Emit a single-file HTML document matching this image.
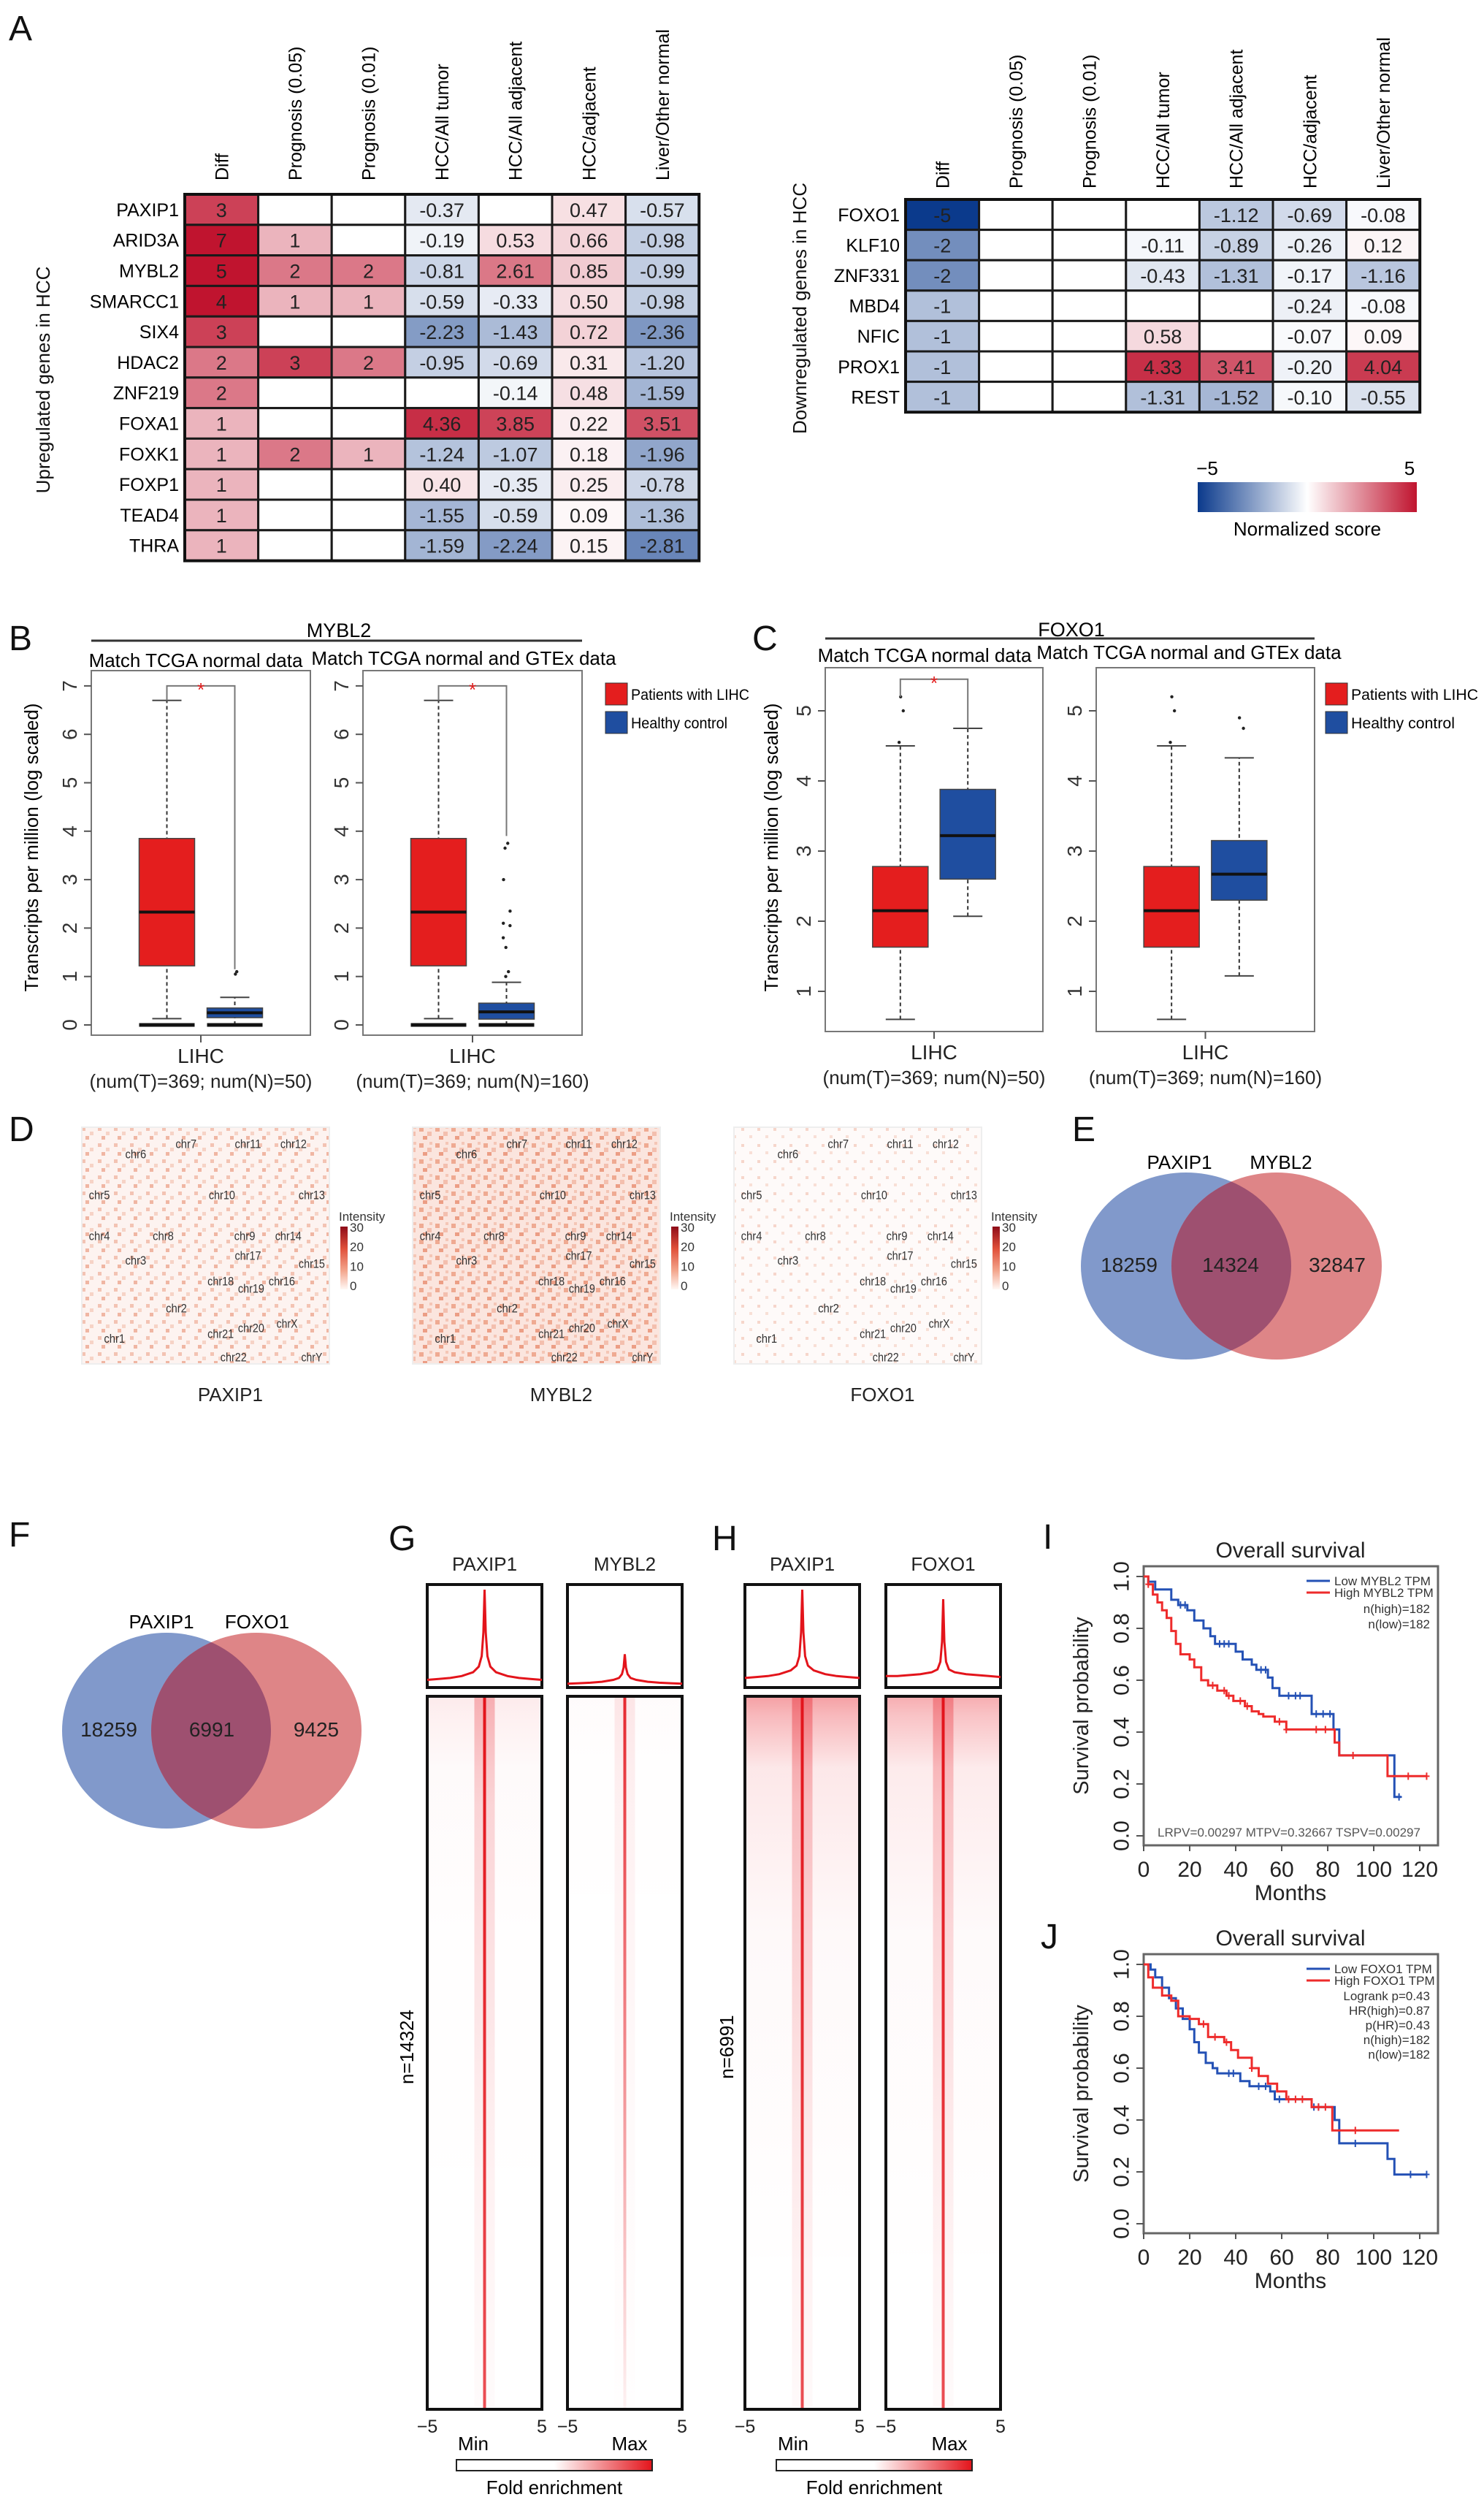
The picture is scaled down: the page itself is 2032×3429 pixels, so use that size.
<!DOCTYPE html>
<html><head><meta charset="utf-8"><title>Figure</title>
<style>
html,body{margin:0;padding:0;background:#fff;}
svg{display:block;font-family:"Liberation Sans",Arial,sans-serif;}
</style></head>
<body>
<svg id="fig" xmlns="http://www.w3.org/2000/svg" width="2032" height="3429" viewBox="0 0 2032 3429">
<defs>
<linearGradient id="normGrad" x1="0" x2="1" y1="0" y2="0">
<stop offset="0" stop-color="#0b3a8c"/><stop offset="0.5" stop-color="#ffffff"/><stop offset="1" stop-color="#c0142f"/>
</linearGradient>
<linearGradient id="intGrad" x1="0" x2="0" y1="0" y2="1">
<stop offset="0" stop-color="#8e0c18"/><stop offset="0.35" stop-color="#e0503a"/><stop offset="0.7" stop-color="#f3a58c"/><stop offset="1" stop-color="#fff8f4"/>
</linearGradient>
<linearGradient id="foldGrad" x1="0" x2="1" y1="0" y2="0">
<stop offset="0" stop-color="#ffffff"/><stop offset="0.5" stop-color="#ffffff"/><stop offset="1" stop-color="#e3141b"/>
</linearGradient>
<pattern id="dens1" width="22" height="22" patternUnits="userSpaceOnUse">
<rect width="22" height="22" fill="#fdf3f0"/><rect x="2" y="3" width="5" height="5" fill="#f3c3b3"/><rect x="13" y="9" width="5" height="5" fill="#f6d3c6"/><rect x="7" y="15" width="5" height="5" fill="#f0b6a3"/>
</pattern>
<pattern id="dens2" width="22" height="22" patternUnits="userSpaceOnUse">
<rect width="22" height="22" fill="#fbe5de"/><rect x="2" y="3" width="6" height="6" fill="#efaa92"/><rect x="13" y="9" width="6" height="6" fill="#f3bfae"/><rect x="7" y="15" width="6" height="5" fill="#ec9e85"/><rect x="16" y="1" width="4" height="4" fill="#f4c6b6"/>
</pattern>
<pattern id="dens3" width="22" height="22" patternUnits="userSpaceOnUse">
<rect width="22" height="22" fill="#fefaf9"/><rect x="3" y="4" width="4" height="4" fill="#f6d6cb"/><rect x="14" y="14" width="4" height="4" fill="#f8dfd6"/>
</pattern>
<linearGradient id="hazeV" x1="0" x2="0" y1="0" y2="1">
<stop offset="0" stop-color="#e8202a" stop-opacity="0.6"/><stop offset="0.03" stop-color="#e8202a" stop-opacity="0.45"/><stop offset="0.12" stop-color="#e8202a" stop-opacity="0.15"/><stop offset="0.4" stop-color="#e8202a" stop-opacity="0.04"/><stop offset="1" stop-color="#e8202a" stop-opacity="0"/>
</linearGradient>
<linearGradient id="coreV" x1="0" x2="0" y1="0" y2="1">
<stop offset="0" stop-color="#e8202a" stop-opacity="0.5"/><stop offset="0.15" stop-color="#e8202a" stop-opacity="0.3"/><stop offset="0.6" stop-color="#e8202a" stop-opacity="0.12"/><stop offset="1" stop-color="#e8202a" stop-opacity="0.03"/>
</linearGradient>
<linearGradient id="lineV" x1="0" x2="0" y1="0" y2="1">
<stop offset="0" stop-color="#e3141b" stop-opacity="1"/><stop offset="1" stop-color="#e3141b" stop-opacity="0.75"/>
</linearGradient>
<linearGradient id="lineVfade" x1="0" x2="0" y1="0" y2="1">
<stop offset="0" stop-color="#e3141b" stop-opacity="0.9"/><stop offset="0.6" stop-color="#e3141b" stop-opacity="0.4"/><stop offset="1" stop-color="#e3141b" stop-opacity="0.05"/>
</linearGradient>
<clipPath id="clipE"><ellipse cx="1624" cy="1733" rx="144" ry="128"/></clipPath>
<clipPath id="clipF"><ellipse cx="228" cy="2369" rx="143" ry="134"/></clipPath>
</defs>

<g font-size="48" fill="#111">
<text x="12" y="55">A</text>
<text x="12" y="890">B</text>
<text x="1030" y="890">C</text>
<text x="12" y="1562">D</text>
<text x="1468" y="1562">E</text>
<text x="12" y="2117">F</text>
<text x="532" y="2122">G</text>
<text x="975" y="2122">H</text>
<text x="1428" y="2120">I</text>
<text x="1425" y="2667">J</text>
</g>

<text x="68" y="520" font-size="26" text-anchor="middle" transform="rotate(-90 68 520)" fill="#111">Upregulated genes in HCC</text>
<text x="1104" y="422" font-size="26" text-anchor="middle" transform="rotate(-90 1104 422)" fill="#111">Downregulated genes in HCC</text>
<rect x="1640" y="660" width="300" height="41" fill="url(#normGrad)"/>
<text x="1653" y="650" font-size="26" text-anchor="middle">−5</text>
<text x="1930" y="650" font-size="26" text-anchor="middle">5</text>
<text x="1790" y="733" font-size="26" text-anchor="middle">Normalized score</text>

<g id="gA"></g>
<g id="gA2"></g>

<text x="464" y="872" font-size="27" text-anchor="middle">MYBL2</text>
<line x1="125" y1="877" x2="797" y2="877" stroke="#333" stroke-width="3"/>
<text x="268" y="913" font-size="26" text-anchor="middle">Match TCGA normal data</text>
<text x="635" y="910" font-size="26" text-anchor="middle">Match TCGA normal and GTEx data</text>
<text x="52" y="1160" font-size="26" text-anchor="middle" transform="rotate(-90 52 1160)">Transcripts per million (log scaled)</text>
<text x="1467" y="871" font-size="27" text-anchor="middle">FOXO1</text>
<line x1="1130" y1="874" x2="1800" y2="874" stroke="#333" stroke-width="3"/>
<text x="1266" y="906" font-size="26" text-anchor="middle">Match TCGA normal data</text>
<text x="1628" y="902" font-size="26" text-anchor="middle">Match TCGA normal and GTEx data</text>
<text x="1065" y="1160" font-size="26" text-anchor="middle" transform="rotate(-90 1065 1160)">Transcripts per million (log scaled)</text>
<g>
<rect x="829" y="935" width="30" height="30" fill="#e41e1e" stroke="#333"/>
<text x="864" y="958" font-size="21" textLength="162" lengthAdjust="spacingAndGlyphs">Patients with LIHC</text>
<rect x="829" y="974" width="30" height="30" fill="#1f4ea0" stroke="#333"/>
<text x="864" y="997" font-size="21" textLength="132" lengthAdjust="spacingAndGlyphs">Healthy control</text>
</g>
<g>
<rect x="1815" y="935" width="30" height="30" fill="#e41e1e" stroke="#333"/>
<text x="1850" y="958" font-size="21" textLength="174" lengthAdjust="spacingAndGlyphs">Patients with LIHC</text>
<rect x="1815" y="974" width="30" height="30" fill="#1f4ea0" stroke="#333"/>
<text x="1850" y="997" font-size="21" textLength="142" lengthAdjust="spacingAndGlyphs">Healthy control</text>
</g>
<g id="gB"></g>

<g id="gD"></g>

<g>
<ellipse cx="1624" cy="1733" rx="144" ry="128" fill="#8199cb"/>
<ellipse cx="1748" cy="1733" rx="144" ry="128" fill="#de8587"/>
<ellipse cx="1748" cy="1733" rx="144" ry="128" fill="#9e5070" clip-path="url(#clipE)"/>
<text x="1615" y="1600" font-size="26" text-anchor="middle">PAXIP1</text>
<text x="1754" y="1600" font-size="26" text-anchor="middle">MYBL2</text>
<text x="1546" y="1741" font-size="28" text-anchor="middle" fill="#222">18259</text>
<text x="1685" y="1741" font-size="28" text-anchor="middle" fill="#222">14324</text>
<text x="1831" y="1741" font-size="28" text-anchor="middle" fill="#222">32847</text>
</g>
<g>
<ellipse cx="228" cy="2369" rx="143" ry="134" fill="#8199cb"/>
<ellipse cx="351" cy="2369" rx="144" ry="134" fill="#de8587"/>
<ellipse cx="351" cy="2369" rx="144" ry="134" fill="#9e5070" clip-path="url(#clipF)"/>
<text x="221" y="2229" font-size="26" text-anchor="middle">PAXIP1</text>
<text x="352" y="2229" font-size="26" text-anchor="middle">FOXO1</text>
<text x="149" y="2377" font-size="28" text-anchor="middle" fill="#222">18259</text>
<text x="290" y="2377" font-size="28" text-anchor="middle" fill="#222">6991</text>
<text x="433" y="2377" font-size="28" text-anchor="middle" fill="#222">9425</text>
</g>

<g id="gG"></g>
<text x="566" y="2802" font-size="26" text-anchor="middle" transform="rotate(-90 566 2802)">n=14324</text>
<text x="1004" y="2802" font-size="26" text-anchor="middle" transform="rotate(-90 1004 2802)">n=6991</text>
<g>
<text x="648" y="3354" font-size="26" text-anchor="middle">Min</text>
<text x="862" y="3354" font-size="26" text-anchor="middle">Max</text>
<rect x="625" y="3367" width="268" height="15" fill="url(#foldGrad)" stroke="#222" stroke-width="2"/>
<text x="759" y="3414" font-size="26" text-anchor="middle">Fold enrichment</text>
</g>
<g>
<text x="1086" y="3354" font-size="26" text-anchor="middle">Min</text>
<text x="1300" y="3354" font-size="26" text-anchor="middle">Max</text>
<rect x="1063" y="3367" width="268" height="15" fill="url(#foldGrad)" stroke="#222" stroke-width="2"/>
<text x="1197" y="3414" font-size="26" text-anchor="middle">Fold enrichment</text>
</g>

<g id="gK"></g>
</svg>

<script>
const colNames = ['Diff','Prognosis (0.05)','Prognosis (0.01)','HCC/All tumor','HCC/All adjacent','HCC/adjacent','Liver/Other normal'];
const upGenes = ['PAXIP1','ARID3A','MYBL2','SMARCC1','SIX4','HDAC2','ZNF219','FOXA1','FOXK1','FOXP1','TEAD4','THRA'];
const upDiff = [3,7,5,4,3,2,2,1,1,1,1,1];
const upProg05 = [null,1,2,1,null,3,null,null,2,null,null,null];
const upProg01 = [null,null,2,1,null,2,null,null,1,null,null,null];
const upAllTumor = [-0.37,-0.19,-0.81,-0.59,-2.23,-0.95,null,4.36,-1.24,0.40,-1.55,-1.59];
const upAllAdj = [null,0.53,2.61,-0.33,-1.43,-0.69,-0.14,3.85,-1.07,-0.35,-0.59,-2.24];
const upAdj = [0.47,0.66,0.85,0.50,0.72,0.31,0.48,0.22,0.18,0.25,0.09,0.15];
const upLiver = [-0.57,-0.98,-0.99,-0.98,-2.36,-1.20,-1.59,3.51,-1.96,-0.78,-1.36,-2.81];
const downGenes = ['FOXO1','KLF10','ZNF331','MBD4','NFIC','PROX1','REST'];
const downDiff = [-5,-2,-2,-1,-1,-1,-1];
const downProg05 = [null,null,null,null,null,null,null];
const downProg01 = [null,null,null,null,null,null,null];
const downAllTumor = [null,-0.11,-0.43,null,0.58,4.33,-1.31];
const downAllAdj = [-1.12,-0.89,-1.31,null,null,3.41,-1.52];
const downAdj = [-0.69,-0.26,-0.17,-0.24,-0.07,-0.20,-0.10];
const downLiver = [-0.08,0.12,-1.16,-0.08,0.09,4.04,-0.55];

const boxCats = ['LIHC','LIHC'];
const bTumor = [0.13,1.22,2.33,3.85,6.7];
const bNormalTCGA = [0.0,0.15,0.25,0.35,0.57];
const bNormalGTEx = [0.0,0.12,0.27,0.45,0.88];
const bOutTCGA = [1.05,1.1];
const bOutGTEx = [3.75,3.65,3.0,2.35,2.1,2.05,1.8,1.6,1.1,1.0];
const bTicks = [0,1,2,3,4,5,6,7];
const cTumor = [0.6,1.63,2.15,2.78,4.5];
const cNormalTCGA = [2.07,2.6,3.22,3.88,4.75];
const cNormalGTEx = [1.22,2.3,2.67,3.15,4.33];
const cTumorOut = [4.55,5.0,5.2];
const cOutGTEx = [4.75,4.9];
const cTicks = [1,2,3,4,5];
const numLabelsTCGA = '(num(T)=369; num(N)=50)';
const numLabelsGTEx = '(num(T)=369; num(N)=160)';

const chromNames = ['chr6','chr7','chr11','chr12','chr5','chr10','chr13','chr4','chr8','chr9','chr14','chr3','chr17','chr15','chr18','chr16','chr19','chr2','chr20','chrX','chr21','chr1','chr22','chrY'];
const chromFx = [.218,.421,.671,.855,.071,.566,.929,.071,.329,.658,.834,.218,.671,.929,.561,.808,.684,.382,.684,.829,.561,.132,.613,.929];
const chromFy = [.113,.069,.069,.069,.286,.286,.286,.458,.458,.458,.458,.562,.542,.575,.650,.650,.680,.764,.847,.828,.872,.892,.970,.970];
const mapNames = ['PAXIP1','MYBL2','FOXO1'];
const intensityTicks = [30,20,10,0];

const profX = [-5,-4,-3,-2,-1,-0.5,-0.25,-0.1,0,0.1,0.25,0.5,1,2,3,4,5];
const profG1 = [0.05,0.06,0.07,0.09,0.13,0.19,0.3,0.55,1.0,0.55,0.3,0.19,0.13,0.09,0.07,0.06,0.05];
const profG2 = [0.01,0.015,0.02,0.03,0.05,0.07,0.11,0.18,0.32,0.18,0.11,0.07,0.05,0.03,0.02,0.015,0.01];
const profH1 = [0.07,0.08,0.09,0.11,0.15,0.2,0.3,0.55,1.0,0.55,0.3,0.2,0.15,0.11,0.09,0.08,0.07];
const profH2 = [0.09,0.09,0.1,0.11,0.13,0.16,0.24,0.45,0.9,0.45,0.24,0.16,0.13,0.11,0.1,0.09,0.08];
const peakNames = ['PAXIP1','MYBL2','PAXIP1','FOXO1'];

const monthTicks = [0,20,40,60,80,100,120];
const survTicks = ['0.0','0.2','0.4','0.6','0.8','1.0'];
const iLowT = [0,2,5,12,15,19,22,26,29,31,40,43,47,49,54,56,59,73,82.5,85,109,112];
const iLowS = [1.0,0.98,0.95,0.91,0.89,0.87,0.83,0.80,0.77,0.74,0.71,0.68,0.66,0.64,0.61,0.57,0.54,0.47,0.41,0.31,0.15,0.15];
const iHighT = [0,2,4,6,8,10,12,14,16,20,22,25,28,32,36,39,44,47,50,52,57,62,83,85,106,123];
const iHighS = [1.0,0.97,0.93,0.90,0.87,0.84,0.79,0.74,0.70,0.68,0.65,0.60,0.58,0.56,0.54,0.52,0.50,0.48,0.47,0.46,0.44,0.41,0.36,0.31,0.23,0.23];
const iLowCens = [16,18,33,35,37,51,53,63,66,68,75,78,81,111];
const iHighCens = [2,30,35,37,42,45,59,62,75,79,91,115,123];
const jLowT = [0,3,5,8,11,14,17,20,22,24,27,30,32,42,46,55,57,73,83,85,106,109,123];
const jLowS = [1.0,0.98,0.95,0.91,0.87,0.83,0.79,0.75,0.70,0.66,0.62,0.60,0.58,0.55,0.53,0.51,0.48,0.45,0.40,0.31,0.25,0.19,0.19];
const jHighT = [0,2,4,8,12,15,20,24,28,35,38,41,47,50,54,58,62,73,82,111];
const jHighS = [1.0,0.95,0.91,0.88,0.86,0.80,0.79,0.77,0.72,0.70,0.67,0.64,0.60,0.57,0.54,0.51,0.48,0.45,0.36,0.36];
const jLowCens = [37,39,50,53,59,74,76,92,116,123];
const jHighCens = [26,31,36,47,63,66,69,76,79,92];

const NS = 'http://www.w3.org/2000/svg';
function mk(tag, attrs, parent){
  const e = document.createElementNS(NS, tag);
  for (const k in attrs) e.setAttribute(k, attrs[k]);
  parent.appendChild(e);
  return e;
}
function mkText(str, attrs, parent){
  const e = mk('text', attrs, parent);
  e.textContent = str;
  return e;
}
function mix(a, b, t){
  return 'rgb(' + [0,1,2].map(i => Math.round(a[i] + (b[i]-a[i])*t)).join(',') + ')';
}
function scoreColor(v){
  if (v === null) return '#ffffff';
  const t = Math.pow(Math.min(Math.abs(v)/5, 1), 0.85);
  return v >= 0 ? mix([255,255,255],[192,20,47],t) : mix([255,255,255],[11,58,140],t);
}
function fmt(v, isCount){
  if (v === null) return '';
  const s = isCount ? String(Math.abs(v)) : Math.abs(v).toFixed(2);
  return (v < 0 ? '-' : '') + s;
}

function drawHeat(g, left, top, ch, genes, cols, headerBottom){
  const cw = 100.6;
  colNames.forEach((n, c) => {
    const x = left + c*cw + cw/2 + 9;
    const t = mkText(n, {x:x, y:headerBottom, 'font-size':25, transform:'rotate(-90 '+x+' '+headerBottom+')'}, g);
    
    
  });
  genes.forEach((gn, r) => {
    const t = mkText(gn, {x:left-8, y:top + r*ch + ch/2 + 9, 'font-size':25, 'text-anchor':'end'}, g);
    
    
    cols.forEach((arr, c) => {
      const v = arr[r];
      const isCount = c < 3;
      const cv = (v === null) ? null : (isCount ? v*1.3 : v);
      const rect = mk('rect', {x:left + c*cw, y:top + r*ch, width:cw, height:ch, fill:scoreColor(cv), stroke:'#1a1a1a', 'stroke-width':3}, g);
      
      
      if (v !== null){
        const vt = mkText(fmt(v, isCount), {x:left + c*cw + cw/2, y:top + r*ch + ch/2 + 10, 'font-size':27, 'text-anchor':'middle', fill:'#222'}, g);
        
        
      }
    });
  });
  const b = mk('rect', {x:left, y:top, width:cw*7, height:ch*genes.length, fill:'none', stroke:'#111', 'stroke-width':4}, g);
  
  
}
drawHeat(document.getElementById('gA'), 253, 266, 41.8, upGenes, [upDiff,upProg05,upProg01,upAllTumor,upAllAdj,upAdj,upLiver], 247);
drawHeat(document.getElementById('gA2'), 1240, 273, 41.6, downGenes, [downDiff,downProg05,downProg01,downAllTumor,downAllAdj,downAdj,downLiver], 258);

const gB = document.getElementById('gB');
function drawBoxPanel(fx, fw, ftop, fbot, y0, ppu, ticks, tumor, normal, tumorOut, normalOut, bracket, zeroBars, numLabel){
  const y = v => y0 - v*ppu;
  const f = mk('rect', {x:fx, y:ftop, width:fw, height:fbot-ftop, fill:'none', stroke:'#777', 'stroke-width':2}, gB);
  
  
  ticks.forEach(tv => {
    const tl = mk('line', {x1:fx-10, x2:fx, y1:y(tv), y2:y(tv), stroke:'#555', 'stroke-width':2}, gB);
    
    
    const lx = fx-30;
    const tt = mkText(String(tv), {x:lx, y:y(tv), 'font-size':28, 'text-anchor':'middle', fill:'#333', transform:'rotate(-90 '+lx+' '+y(tv)+')', dy:'0.35em'}, gB);
    
    
  });
  const cx = fx + fw/2;
  const xt = mk('line', {x1:cx, x2:cx, y1:fbot, y2:fbot+10, stroke:'#555', 'stroke-width':2}, gB);
  
  
  const l1 = mkText(boxCats[0], {x:cx, y:fbot+38, 'font-size':28, 'text-anchor':'middle', fill:'#222'}, gB);
  
  
  const l2 = mkText(numLabel, {x:cx, y:fbot+72, 'font-size':26, 'text-anchor':'middle', fill:'#222'}, gB);
  
  
  const groups = [[tumor, fx+fw*0.345, '#e41e1e', tumorOut],[normal, fx+fw*0.655, '#1f4ea0', normalOut]];
  groups.forEach(([s, gx, col, outs]) => {
    const bw = 76;
    const w1 = mk('line', {x1:gx, x2:gx, y1:y(s[0]), y2:y(s[4]), stroke:'#333', 'stroke-width':2, 'stroke-dasharray':'5 4'}, gB);
    
    
    [s[0], s[4]].forEach(cv => {
      const cap = mk('line', {x1:gx-20, x2:gx+20, y1:y(cv), y2:y(cv), stroke:'#444', 'stroke-width':2}, gB);
      
      
    });
    const bx = mk('rect', {x:gx-bw/2, y:y(s[3]), width:bw, height:y(s[1])-y(s[3]), fill:col, stroke:'#444', 'stroke-width':1.5}, gB);
    
    
    const md = mk('line', {x1:gx-bw/2, x2:gx+bw/2, y1:y(s[2]), y2:y(s[2]), stroke:'#111', 'stroke-width':4}, gB);
    
    
    outs.forEach(ov => {
      const p = mk('circle', {cx:gx + ((ov*37)%11) - 5, cy:y(ov), r:2.2, fill:'#222'}, gB);
      
      
    });
    if (zeroBars){
      const zb = mk('line', {x1:gx-bw/2, x2:gx+bw/2, y1:y(0), y2:y(0), stroke:'#111', 'stroke-width':5}, gB);
      
      
    }
  });
  if (bracket){
    const [by, lv, rv] = bracket;
    const xa = groups[0][1], xb = groups[1][1];
    const br = mk('path', {d:'M'+xa+' '+y(lv)+' V'+y(by)+' H'+xb+' V'+y(rv), fill:'none', stroke:'#777', 'stroke-width':2}, gB);
    
    
    const st = mkText('*', {x:(xa+xb)/2, y:y(by)+14, 'font-size':26, 'text-anchor':'middle', fill:'#e41e1e'}, gB);
    
    
  }
}
drawBoxPanel(125, 300, 918, 1417, 1403, 66.3, bTicks, bTumor, bNormalTCGA, [], bOutTCGA, [7, 6.7, 1.15], true, numLabelsTCGA);
drawBoxPanel(497, 300, 918, 1417, 1403, 66.3, bTicks, bTumor, bNormalGTEx, [], bOutGTEx, [7, 6.7, 3.9], true, numLabelsGTEx);
drawBoxPanel(1130, 298, 914, 1412, 1453, 96, cTicks, cTumor, cNormalTCGA, cTumorOut, [], [5.45, 5.2, 4.75], false, numLabelsTCGA);
drawBoxPanel(1501, 299, 914, 1412, 1453, 96, cTicks, cTumor, cNormalGTEx, cTumorOut, cOutGTEx, null, false, numLabelsGTEx);

const gD = document.getElementById('gD');
const mapX = [112, 565, 1005];
const mapFill = ['url(#dens1)','url(#dens2)','url(#dens3)'];
mapNames.forEach((nm, m) => {
  const mx = mapX[m], my = 1543, mw = 339, mh = 324;
  const r = mk('rect', {x:mx, y:my, width:mw, height:mh, fill:mapFill[m], stroke:'#eee', 'stroke-width':2}, gD);
  
  
  chromNames.forEach((cn, i) => {
    const t = mkText(cn, {x:mx + chromFx[i]*mw, y:my + chromFy[i]*mh + 6, 'font-size':17, 'text-anchor':'middle', fill:'#333', textLength:cn.length*7.2, lengthAdjust:'spacingAndGlyphs'}, gD);
    
    
  });
  const lab = mkText(nm, {x:mx + mw*0.6, y:1918, 'font-size':26, 'text-anchor':'middle', fill:'#222'}, gD);
  
  
  const lx = mx + mw + 13;
  const it = mkText('Intensity', {x:lx, y:1671, 'font-size':17, fill:'#333'}, gD);
  
  
  const bar = mk('rect', {x:lx+2, y:1679, width:10, height:86, fill:'url(#intGrad)'}, gD);
  
  
  intensityTicks.forEach((tv, k) => {
    const tt = mkText(String(tv), {x:lx+15, y:1686 + (30-tv)/30*80, 'font-size':17, fill:'#333'}, gD);
    
    
  });
});

const gG = document.getElementById('gG');
const peakX = [585, 777, 1020, 1213];
const peakProf = [profG1, profG2, profH1, profH2];
const hazeOp = [0.15, 0.03, 0.7, 0.6];
const coreOp = [0.6, 0.2, 0.8, 0.7];
peakNames.forEach((nm, p) => {
  const px = peakX[p], pw = 157;
  const xs = v => px + (v + 5) / 10 * pw;
  const h = mkText(nm, {x:px + pw/2, y:2150, 'font-size':26, 'text-anchor':'middle', fill:'#222'}, gG);
  
  
  const top = mk('rect', {x:px, y:2169, width:pw, height:141, fill:'#fff', stroke:'#111', 'stroke-width':4}, gG);
  
  
  const prof = peakProf[p];
  const d = profX.map((v, i) => (i ? 'L' : 'M') + xs(v).toFixed(1) + ' ' + (2306 - prof[i]*130).toFixed(1)).join(' ');
  const pl = mk('path', {d:d, fill:'none', stroke:'#e3141b', 'stroke-width':3}, gG);
  
  
  const body = mk('rect', {x:px, y:2322, width:pw, height:976, fill:'#fff'}, gG);
  
  
  const hz = mk('rect', {x:px+2, y:2324, width:pw-4, height:800, fill:'url(#hazeV)', opacity:hazeOp[p]}, gG);
  
  
  const core = mk('rect', {x:xs(0)-14, y:2324, width:28, height:970, fill:'url(#coreV)', opacity:coreOp[p]}, gG);
  
  
  const ln = mk('rect', {x:xs(0)-2, y:2324, width:4, height:972, fill:p === 1 ? 'url(#lineVfade)' : 'url(#lineV)'}, gG);
  
  
  const fr = mk('rect', {x:px, y:2322, width:pw, height:976, fill:'none', stroke:'#111', 'stroke-width':4}, gG);
  
  
  [-5, 5].forEach(tv => {
    const tt = mkText(tv < 0 ? '−5' : '5', {x:xs(tv), y:3330, 'font-size':25, 'text-anchor':'middle', fill:'#222'}, gG);
    
    
  });
});

const gK = document.getElementById('gK');
function stepAt(T, S, t){
  let s = S[0];
  for (let i = 0; i < T.length; i++){ if (T[i] <= t) s = S[i]; }
  return s;
}
function drawKM(ftop, fbot, y0, title, curves, legendLines){
  const fx = 1566, fw = 403;
  const x = m => fx + m*(1944-1566)/120;
  const y = s => y0 - s*355;
  const tt = mkText('Overall survival', {x:1767, y:ftop-12, 'font-size':30, 'text-anchor':'middle', fill:'#222'}, gK);
  
  
  const fr = mk('rect', {x:fx, y:ftop, width:fw, height:fbot-ftop, fill:'none', stroke:'#666', 'stroke-width':3}, gK);
  
  
  monthTicks.forEach(m => {
    const tl = mk('line', {x1:x(m), x2:x(m), y1:fbot, y2:fbot+8, stroke:'#555', 'stroke-width':2}, gK);
    
    
    const tx = mkText(String(m), {x:x(m), y:fbot+43, 'font-size':30, 'text-anchor':'middle', fill:'#222'}, gK);
    
    
  });
  const mo = mkText('Months', {x:1767, y:fbot+75, 'font-size':30, 'text-anchor':'middle', fill:'#222'}, gK);
  
  
  survTicks.forEach(s => {
    const yy = y(parseFloat(s));
    const tl = mk('line', {x1:fx-10, x2:fx, y1:yy, y2:yy, stroke:'#555', 'stroke-width':2}, gK);
    
    
    const ty = mkText(s, {x:1535, y:yy, 'font-size':30, 'text-anchor':'middle', fill:'#222', dy:'0.35em', transform:'rotate(-90 1535 '+yy+')'}, gK);
    
    
  });
  const yc = (ftop + fbot)/2;
  const yt = mkText('Survival probability', {x:1490, y:yc, 'font-size':29, 'text-anchor':'middle', fill:'#222', transform:'rotate(-90 1490 '+yc+')'}, gK);
  
  
  curves.forEach(([T, S, C, col, nm]) => {
    let d = 'M' + x(T[0]) + ' ' + y(S[0]);
    for (let i = 1; i < T.length; i++) d += ' H' + x(T[i]).toFixed(1) + ' V' + y(S[i]).toFixed(1);
    const pth = mk('path', {d:d, fill:'none', stroke:col, 'stroke-width':3}, gK);
    
    
    C.forEach(ct => {
      const cy = y(stepAt(T, S, ct));
      const cm = mk('path', {d:'M'+(x(ct)-4)+' '+cy+' h8 M'+x(ct)+' '+(cy-5)+' v10', stroke:col, 'stroke-width':2}, gK);
      
      
    });
  });
  legendLines.forEach(([txt, col, k]) => {
    const ly = ftop + 26 + k*20;
    if (col){
      const ll = mk('line', {x1:1789, x2:1821, y1:ly-6, y2:ly-6, stroke:col, 'stroke-width':3}, gK);
      
      
      const lt = mkText(txt, {x:1827, y:ly, 'font-size':17, fill:'#333'}, gK);
      
      
    } else {
      const lt = mkText(txt, {x:1958, y:ly, 'font-size':17, 'text-anchor':'end', fill:'#333'}, gK);
      
      
    }
  });
}
drawKM(2144, 2526, 2513, 'I',
  [[iLowT, iLowS, iLowCens, '#2451b5', 'low-mybl2-curve'], [iHighT, iHighS, iHighCens, '#ee2b2b', 'high-mybl2-curve']],
  [['Low MYBL2 TPM', '#2451b5', 0], ['High MYBL2 TPM', '#ee2b2b', 0.8], ['n(high)=182', null, 1.9], ['n(low)=182', null, 2.95]]);
const pv = mkText('LRPV=0.00297   MTPV=0.32667   TSPV=0.00297', {x:1585, y:2514, 'font-size':17, fill:'#555', textLength:360, lengthAdjust:'spacingAndGlyphs'}, gK);


drawKM(2675, 3057, 3044, 'J',
  [[jLowT, jLowS, jLowCens, '#2451b5', 'low-foxo1-curve'], [jHighT, jHighS, jHighCens, '#ee2b2b', 'high-foxo1-curve']],
  [['Low FOXO1 TPM', '#2451b5', 0], ['High FOXO1 TPM', '#ee2b2b', 0.8], ['Logrank p=0.43', null, 1.85], ['HR(high)=0.87', null, 2.85], ['p(HR)=0.43', null, 3.85], ['n(high)=182', null, 4.85], ['n(low)=182', null, 5.85]]);
</script>
</body></html>
